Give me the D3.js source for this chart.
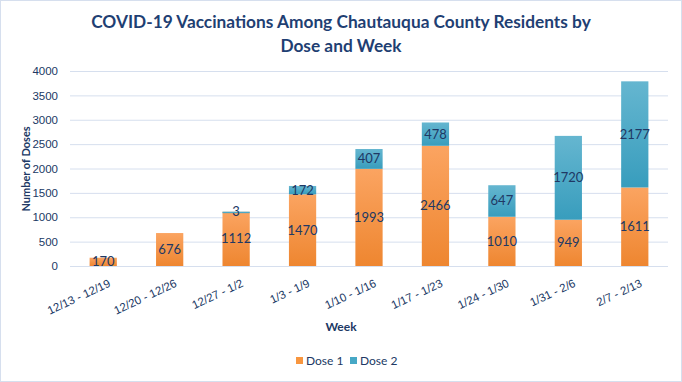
<!DOCTYPE html>
<html><head><meta charset="utf-8">
<script src="https://cdn.jsdelivr.net/npm/d3@7"></script>
<style>body{margin:0;background:#fff;} svg{display:block;font-family:Lato,"Liberation Sans",Arial,sans-serif;}</style>
</head><body>
<script>
const weeks = ["12/13 - 12/19","12/20 - 12/26","12/27 - 1/2","1/3 - 1/9","1/10 - 1/16","1/17 - 1/23","1/24 - 1/30","1/31 - 2/6","2/7 - 2/13"];
const dose1 = [170, 676, 1112, 1470, 1993, 2466, 1010, 949, 1611];
const dose2 = [0, 0, 3, 172, 407, 478, 647, 1720, 2177];
const yTicks = [0, 500, 1000, 1500, 2000, 2500, 3000, 3500, 4000];
const seriesNames = ["Dose 1", "Dose 2"];

const W = 682, H = 382;
const m = {left: 70, right: 14, top: 71, bottom: 116};
const svg = d3.select("body").append("svg").attr("width", W).attr("height", H);
const txt = "#203864";

const defs = svg.append("defs");
const g1 = defs.append("linearGradient").attr("id","gOr").attr("x1",0).attr("y1",0).attr("x2",0).attr("y2",1);
g1.append("stop").attr("offset","0%").attr("stop-color","#FBA461");
g1.append("stop").attr("offset","100%").attr("stop-color","#EE8630");
const g2 = defs.append("linearGradient").attr("id","gBl").attr("x1",0).attr("y1",0).attr("x2",0).attr("y2",1);
g2.append("stop").attr("offset","0%").attr("stop-color","#65B6D0");
g2.append("stop").attr("offset","100%").attr("stop-color","#389DBD");

svg.append("rect").attr("x",0.5).attr("y",0.5).attr("width",W-1).attr("height",H-1)
  .attr("fill","#fff").attr("stroke","#D6DFEE");

svg.append("text").attr("x",341).attr("y",28).attr("text-anchor","middle")
  .attr("font-size",17.3).attr("font-weight","bold").attr("fill","#1F3F73")
  .text("COVID-19 Vaccinations Among Chautauqua County Residents by");
svg.append("text").attr("x",341).attr("y",52).attr("text-anchor","middle")
  .attr("font-size",17.3).attr("font-weight","bold").attr("fill","#1F3F73")
  .text("Dose and Week");

const x = d3.scaleBand().domain(weeks).range([m.left, W - m.right]).paddingInner(0.59).paddingOuter(0.295);
const y = d3.scaleLinear().domain([0, 4000]).range([266, 71]);

// grid
svg.append("g").selectAll("line").data(yTicks.filter(d=>d>0)).join("line")
  .attr("x1", m.left).attr("x2", W - m.right)
  .attr("y1", d=>y(d)+0.5).attr("y2", d=>y(d)+0.5)
  .attr("stroke","#D6DFEE").attr("stroke-width",1);

// y axis
const ya = svg.append("g").attr("transform",`translate(${m.left},0)`)
  .call(d3.axisLeft(y).tickValues(yTicks).tickFormat(d3.format("d")).tickSize(0).tickPadding(12));
ya.select(".domain").remove();
ya.selectAll("text").attr("font-size",11.5).attr("fill",txt).attr("font-family","inherit");

const data = weeks.map((w,i)=>({w, d1: dose1[i], d2: dose2[i]}));

// bars
const bars = svg.append("g");
bars.selectAll(".b1").data(data).join("rect").attr("class","b1")
  .attr("x", d=>x(d.w)).attr("width", x.bandwidth())
  .attr("y", d=>y(d.d1)).attr("height", d=>y(0)-y(d.d1))
  .attr("fill","url(#gOr)");
bars.selectAll(".b2").data(data.filter(d=>d.d2>0)).join("rect").attr("class","b2")
  .attr("x", d=>x(d.w)).attr("width", x.bandwidth())
  .attr("y", d=>y(d.d1+d.d2)).attr("height", d=>Math.max(1.5, y(d.d1)-y(d.d1+d.d2)))
  .attr("fill","url(#gBl)");

// x axis line
svg.append("line").attr("x1",m.left).attr("x2",W-m.right).attr("y1",266.5).attr("y2",266.5)
  .attr("stroke","#D6DFEE");

// labels
const lab = svg.append("g").attr("font-size",13).attr("fill",txt).attr("text-anchor","middle");
lab.selectAll(".l1").data(data).join("text")
  .attr("x", d=>x(d.w)+x.bandwidth()/2)
  .attr("y", d=>(y(0)+y(d.d1))/2 + 4.5)
  .text(d=>d.d1);
lab.selectAll(".l2").data(data.filter(d=>d.d2>0)).join("text")
  .attr("x", d=>x(d.w)+x.bandwidth()/2)
  .attr("y", d=>(y(d.d1)+y(d.d1+d.d2))/2 + 4.5)
  .text(d=>d.d2);

// x tick labels
const xa = svg.append("g").attr("transform","translate(0,266)")
  .call(d3.axisBottom(x).tickSize(0).tickPadding(0));
xa.select(".domain").remove();
xa.selectAll("text").attr("font-size",11.5).attr("fill",txt).attr("font-family","inherit")
  .attr("text-anchor","end").attr("dy",0)
  .attr("transform","translate(8,20) rotate(-25)");

svg.append("text").attr("x",341).attr("y",331).attr("text-anchor","middle")
  .attr("font-size",12).attr("font-weight","bold").attr("fill",txt).text("Week");
svg.append("text").attr("transform","translate(30,169) rotate(-90)").attr("text-anchor","middle")
  .attr("font-size",11).attr("font-weight","bold").attr("fill",txt).text("Number of Doses");

// legend
const lg = svg.append("g");
const lx = [296, 350];
seriesNames.forEach((n,i)=>{
  lg.append("rect").attr("x",lx[i]).attr("y",357).attr("width",7).attr("height",7)
    .attr("fill", i===0 ? "#F8963F" : "#46A8C6");
  lg.append("text").attr("x",lx[i]+10).attr("y",364.5).attr("font-size",12).attr("fill",txt).text(n);
});
</script>
</body></html>
